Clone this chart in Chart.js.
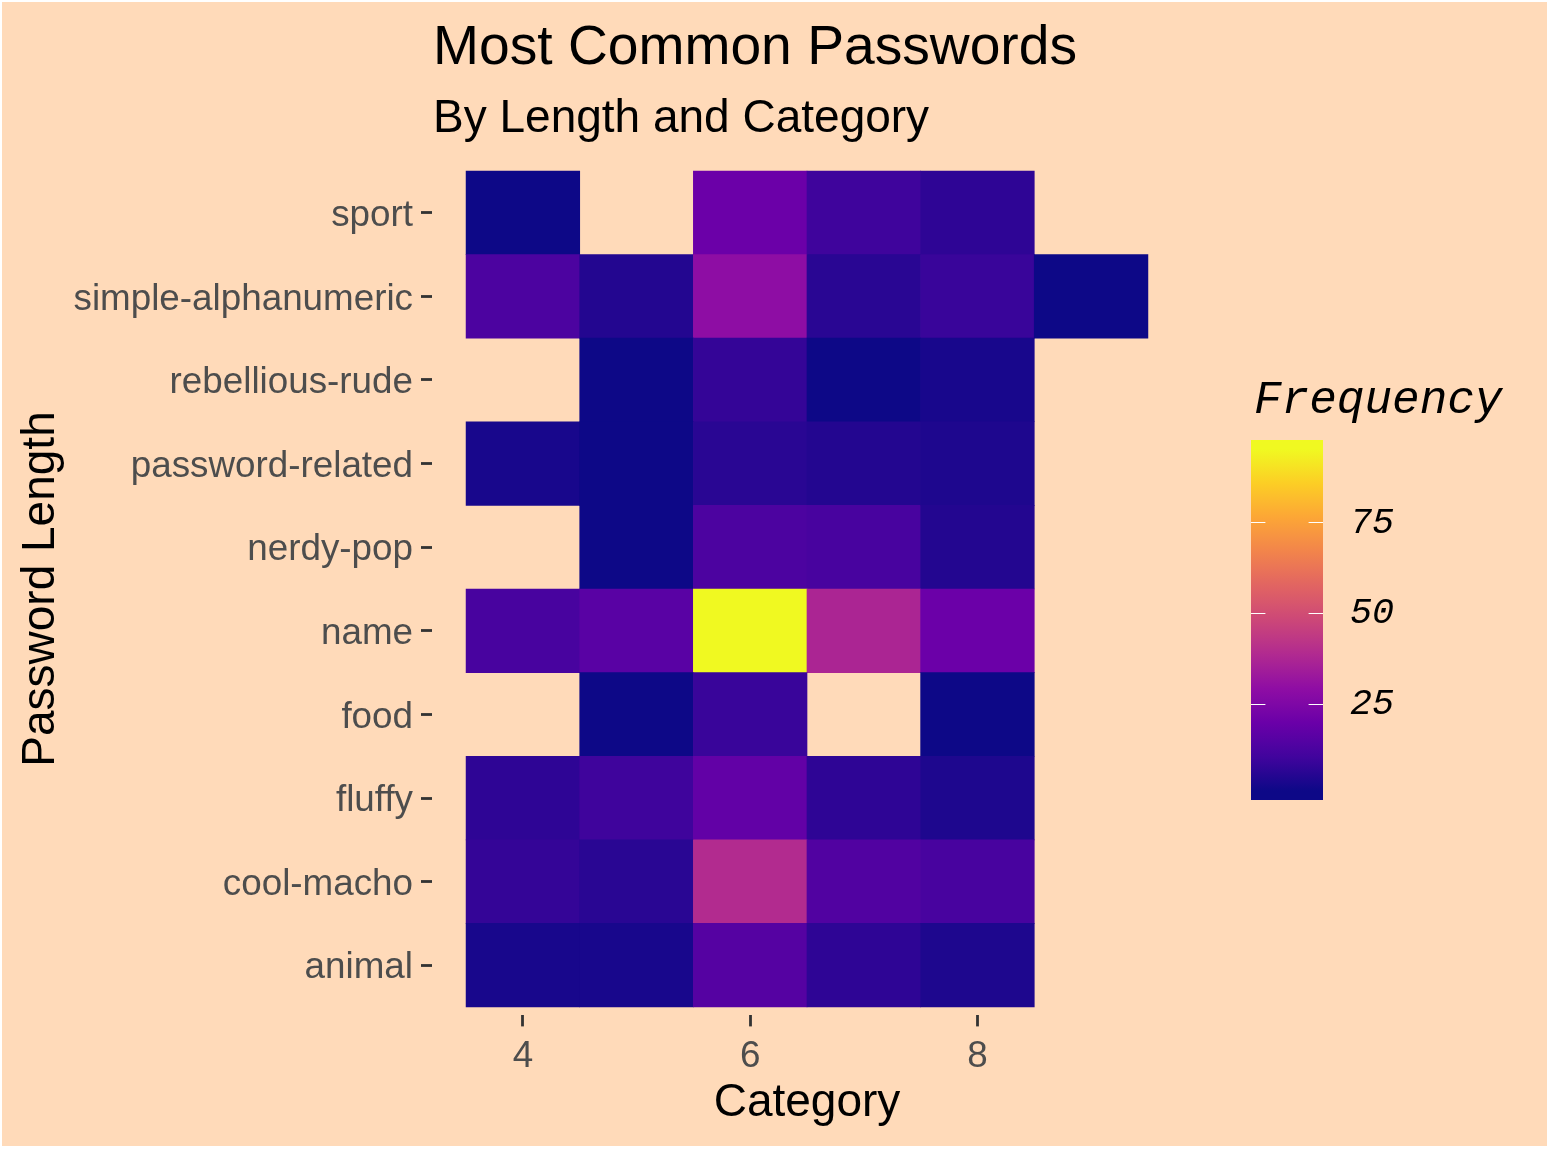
<!DOCTYPE html>
<html><head><meta charset="utf-8">
<script src="https://cdn.jsdelivr.net/npm/chart.js@4.4.0/dist/chart.umd.min.js"></script>
<style>html,body{margin:0;padding:0;background:#ffffff;} canvas{display:block;}</style>
</head><body>
<canvas id="c" width="1549" height="1150"></canvas>
<script>
// ---- data ----
const lengths = [4, 5, 6, 7, 8, 9];
const categories = ['animal', 'cool-macho', 'fluffy', 'food', 'name', 'nerdy-pop',
  'password-related', 'rebellious-rude', 'simple-alphanumeric', 'sport'];
const animal = [3, 3, 15, 7, 4, null];
const coolMacho = [8, 6, 39, 14, 12, null];
const fluffy = [7, 10, 18, 7, 4, null];
const food = [null, 1, 9, null, 1, null];
const nameCat = [12, 16, 95, 37, 20, null];
const nerdyPop = [null, 1, 13, 12, 5, null];
const passwordRelated = [3, 1, 6, 5, 4, null];
const rebelliousRude = [null, 1, 8, 1, 3, null];
const simpleAlphanumeric = [13, 5, 29, 6, 9, 1];
const sport = [1, null, 20, 10, 7, null];
const xTicks = [4, 6, 8];
const legendTicks = [25, 50, 75];

const rows = [animal, coolMacho, fluffy, food, nameCat, nerdyPop, passwordRelated,
  rebelliousRude, simpleAlphanumeric, sport];
const allVals = rows.flat().filter(v => v != null);
const vMin = Math.min(...allVals), vMax = Math.max(...allVals);

// plasma colour scale
const plasmaStops = ['#0d0887', '#41049d', '#6a00a8', '#8f0da4', '#b12a90', '#cc4778',
  '#e16462', '#f2844b', '#fca636', '#fcce25', '#f0f921'];
function hex2rgb(h) { return [parseInt(h.slice(1, 3), 16), parseInt(h.slice(3, 5), 16), parseInt(h.slice(5, 7), 16)]; }
const plasmaRGB = plasmaStops.map(hex2rgb);
function plasma(t) {
  t = Math.max(0, Math.min(1, t));
  const p = t * (plasmaRGB.length - 1);
  const i = Math.min(Math.floor(p), plasmaRGB.length - 2);
  const f = p - i;
  const a = plasmaRGB[i], b = plasmaRGB[i + 1];
  return 'rgb(' + a.map((c, k) => Math.round(c + (b[k] - c) * f)).join(',') + ')';
}
const colorOf = v => plasma((v - vMin) / (vMax - vMin));

const FONT = "'Liberation Sans', Arial, sans-serif";
const MONO = "'Liberation Mono', 'Courier New', monospace";

const datasets = categories.map((cat, ci) => ({
  label: cat,
  data: lengths.map((L, li) => rows[ci][li] == null ? null :
    { y: ci + 1, x: [L - 0.5, L + 0.5], v: rows[ci][li] }).filter(d => d),
  backgroundColor: ctx => (ctx.raw ? colorOf(ctx.raw.v) : 'rgba(0,0,0,0)'),
  borderWidth: 0,
  grouped: false,
  barPercentage: 1,
  categoryPercentage: 1
}));

const bgPlugin = {
  id: 'bg',
  beforeDraw(chart) {
    const c = chart.ctx;
    c.save();
    c.fillStyle = '#ffffff';
    c.fillRect(0, 0, chart.width, chart.height);
    c.fillStyle = '#FFDAB9';
    c.fillRect(2, 2, chart.width - 4, chart.height - 6);
    c.restore();
  }
};

const textPlugin = {
  id: 'texts',
  afterDraw(chart) {
    const c = chart.ctx;
    const left = chart.chartArea.left;
    c.save();
    c.fillStyle = '#000000';
    c.textAlign = 'left';
    c.textBaseline = 'alphabetic';
    c.font = '55.2px ' + FONT;
    c.fillText('Most Common Passwords', left + 1, 64);
    c.font = '46px ' + FONT;
    c.fillText('By Length and Category', left + 1, 132);

    // colour legend
    const bx = 1251, bw = 72, bt = 440, bb = 800, inset = 9;
    const y0 = bb - inset, y1 = bt + inset;
    const g = c.createLinearGradient(0, y0, 0, y1);
    for (let k = 0; k <= 20; k++) g.addColorStop(k / 20, plasma(k / 20));
    c.fillStyle = g;
    c.fillRect(bx, bt, bw, bb - bt);
    const yOf = v => y0 - (v - vMin) / (vMax - vMin) * (y0 - y1);
    c.strokeStyle = '#ffffff';
    c.lineWidth = 1.2;
    c.font = 'italic 36.8px ' + MONO;
    c.textBaseline = 'middle';
    legendTicks.forEach(v => {
      const y = Math.round(yOf(v)) + 0.5;
      c.beginPath();
      c.moveTo(bx, y); c.lineTo(bx + 14.4, y);
      c.moveTo(bx + bw - 14.4, y); c.lineTo(bx + bw, y);
      c.stroke();
      c.fillStyle = '#000000';
      c.fillText(String(v), 1350, yOf(v) + 1);
    });
    c.font = 'italic 46px ' + MONO;
    c.textBaseline = 'alphabetic';
    c.fillText('Frequency', 1254, 413);
    c.restore();
  }
};

new Chart(document.getElementById('c'), {
  type: 'bar',
  data: { datasets },
  options: {
    indexAxis: 'y',
    responsive: false,
    animation: false,
    layout: { padding: { left: 0, right: 367, top: 162.6, bottom: 0 } },
    plugins: { legend: { display: false }, tooltip: { enabled: false }, title: { display: false } },
    scales: {
      x: {
        type: 'linear', min: 3.2, max: 9.8, offset: false,
        afterBuildTicks: s => { s.ticks = xTicks.map(v => ({ value: v })); },
        afterFit: s => { s.height = 1150 - 1015.4; },
        ticks: { color: '#4D4D4D', font: { family: FONT, size: 36.8 }, padding: 8,
          autoSkip: false, maxRotation: 0, callback: v => String(v) },
        grid: { offset: false, drawOnChartArea: false, drawTicks: true, tickLength: 11, tickWidth: 2.8, tickColor: '#333333' },
        border: { display: false },
        title: { display: true, text: 'Category', color: '#000000',
          font: { family: FONT, size: 46 }, padding: { top: 0, bottom: 19 } }
      },
      y: {
        type: 'linear', min: 0.4, max: 10.6, offset: false,
        afterBuildTicks: s => { s.ticks = categories.map((c, i) => ({ value: i + 1 })); },
        afterFit: s => { s.width = 432; },
        ticks: { color: '#4D4D4D', font: { family: FONT, size: 36.8 }, padding: 8,
          labelOffset: 3, autoSkip: false, callback: v => categories[v - 1] },
        grid: { offset: false, drawOnChartArea: false, drawTicks: true, tickLength: 11, tickWidth: 2.8, tickColor: '#333333' },
        border: { display: false },
        title: { display: true, text: 'Password Length', color: '#000000',
          font: { family: FONT, size: 46 }, padding: { top: 14, bottom: 0 } }
      }
    }
  },
  plugins: [bgPlugin, textPlugin]
});
</script>
</body></html>
